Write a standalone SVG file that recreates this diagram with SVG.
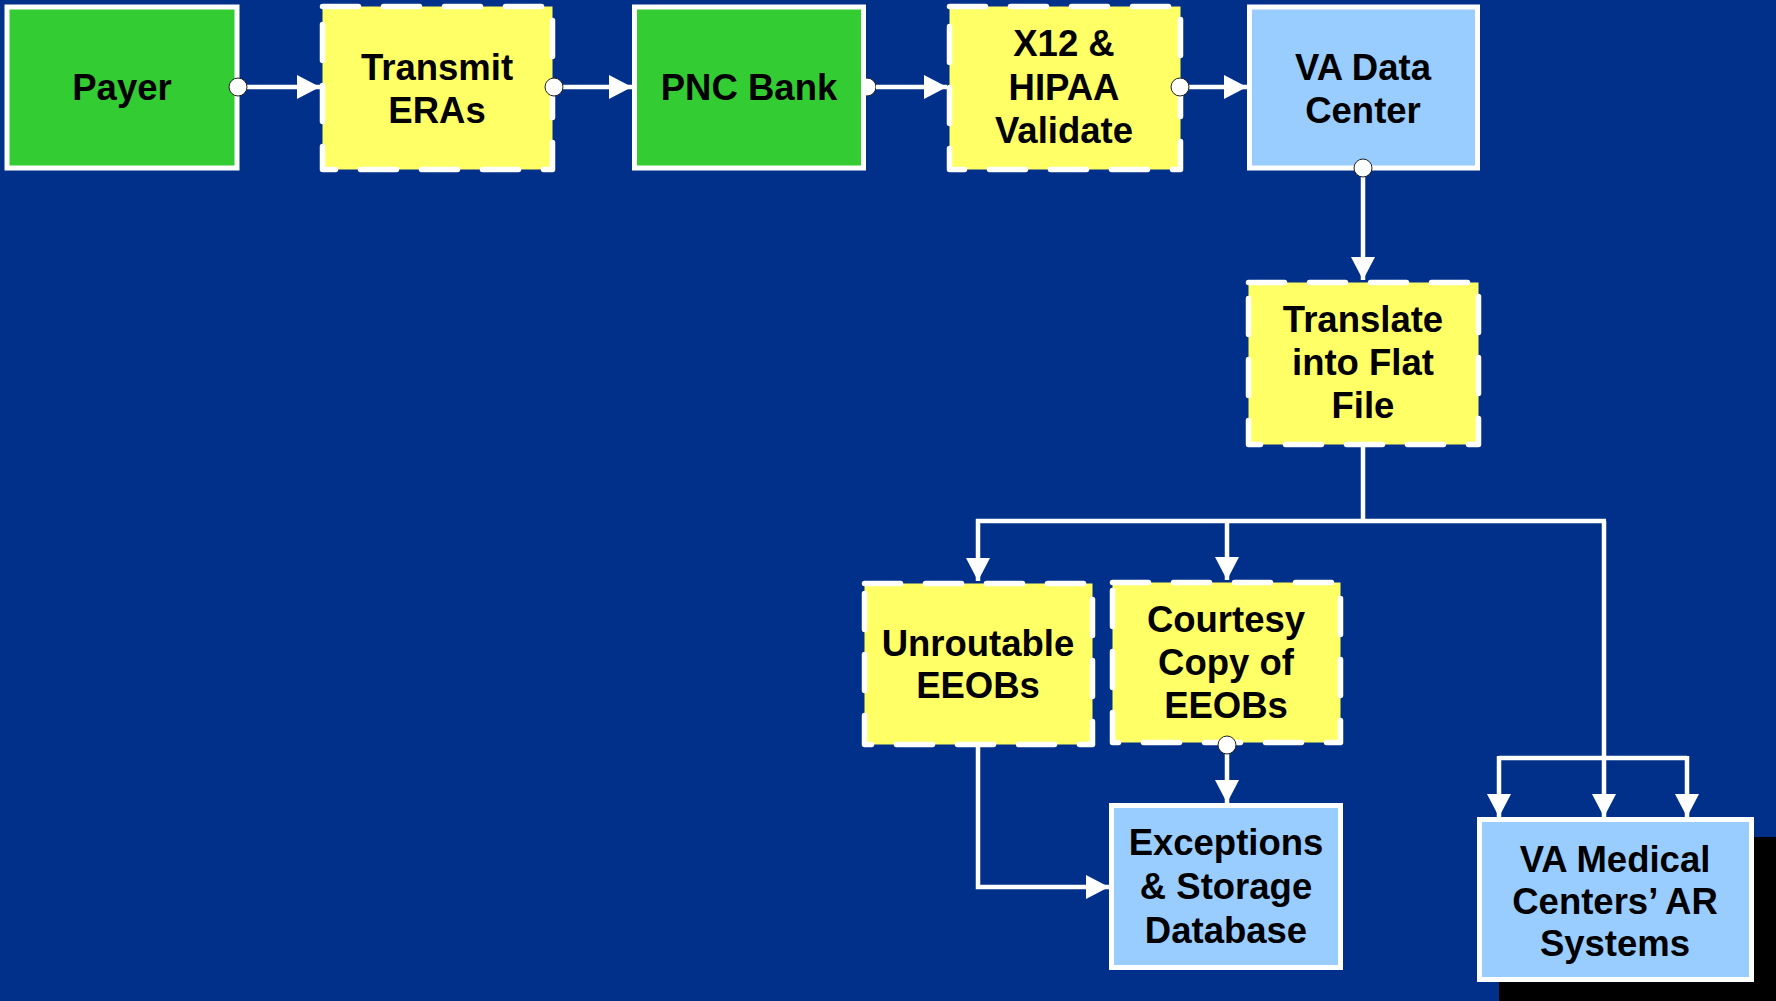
<svg xmlns="http://www.w3.org/2000/svg" width="1776" height="1001" viewBox="0 0 1776 1001">
<defs>
<style>
.bg{fill:#00308A}
.green{fill:#33CC33;stroke:#FFFFFF;stroke-width:5}
.blue{fill:#99CCFF;stroke:#FFFFFF;stroke-width:5}
.yellow{fill:#FFFF66;stroke:#FFFFFF;stroke-width:5.5;stroke-dasharray:36 25;stroke-linecap:round;stroke-linejoin:round}
.t{font-family:"Liberation Sans",Arial,sans-serif;font-weight:bold;font-size:36.5px;fill:#000000;text-anchor:middle}
.c{fill:none;stroke:#FFFFFF;stroke-width:4.5}
.arr{marker-end:url(#ah)}
.dot{fill:#FFFFFF;stroke:#222222;stroke-width:1}
</style>
<marker id="ah" markerUnits="userSpaceOnUse" markerWidth="24" markerHeight="26" refX="23" refY="12" orient="auto" viewBox="0 0 24 24">
<path d="M0,0 L23,12 L0,24 Z" fill="#FFFFFF"/>
</marker>
</defs>
<rect class="bg" x="0" y="0" width="1776" height="1001"/>
<rect x="1499" y="837" width="277" height="164" fill="#000000"/>

<g id="connectors-back">
<circle class="dot" cx="867" cy="87" r="9"/>
</g>

<g id="payer"><rect class="green" x="7" y="7" width="230" height="161"/><text class="t" x="122" y="100">Payer</text></g>
<g id="transmit"><rect class="yellow" x="322.5" y="6.5" width="230" height="163"/><text class="t" x="437" y="80">Transmit</text><text class="t" x="437" y="123">ERAs</text></g>
<g id="pnc"><rect class="green" x="634.5" y="7" width="229" height="161"/><text class="t" x="749" y="100">PNC Bank</text></g>
<g id="x12"><rect class="yellow" x="949.5" y="6.5" width="231" height="163"/><text class="t" x="1064" y="56">X12 &amp;</text><text class="t" x="1064" y="100">HIPAA</text><text class="t" x="1064" y="143">Validate</text></g>
<g id="vadc"><rect class="blue" x="1249.5" y="7" width="228" height="161"/><text class="t" x="1363" y="80">VA Data</text><text class="t" x="1363" y="123">Center</text></g>
<g id="translate"><rect class="yellow" x="1248.5" y="282.5" width="230" height="162"/><text class="t" x="1363" y="332">Translate</text><text class="t" x="1363" y="375">into Flat</text><text class="t" x="1363" y="418">File</text></g>
<g id="unroutable"><rect class="yellow" x="864.5" y="583.5" width="228" height="161"/><text class="t" x="978" y="656">Unroutable</text><text class="t" x="978" y="698">EEOBs</text></g>
<g id="courtesy"><rect class="yellow" x="1112.5" y="582.5" width="228" height="160"/><text class="t" x="1226" y="632">Courtesy</text><text class="t" x="1226" y="675">Copy of</text><text class="t" x="1226" y="718">EEOBs</text></g>
<g id="exceptions"><rect class="blue" x="1111.5" y="805.5" width="229" height="162"/><text class="t" x="1226" y="855">Exceptions</text><text class="t" x="1226" y="899">&amp; Storage</text><text class="t" x="1226" y="943">Database</text></g>
<g id="vamedical"><rect class="blue" x="1479.5" y="819.5" width="272" height="160"/><text class="t" x="1615" y="872">VA Medical</text><text class="t" x="1615" y="914">Centers’ AR</text><text class="t" x="1615" y="956">Systems</text></g>

<g id="connectors">
<line class="c arr" x1="238" y1="87" x2="320" y2="87"/>
<line class="c arr" x1="554" y1="87" x2="632" y2="87"/>
<line class="c arr" x1="876" y1="87" x2="947" y2="87"/>
<line class="c arr" x1="1180" y1="87" x2="1247" y2="87"/>
<line class="c arr" x1="1363" y1="168" x2="1363" y2="280"/>
<path class="c" d="M1363,447 V521 M976,521 H1606"/>
<path class="c arr" d="M978,519 V581"/>
<line class="c arr" x1="1227" y1="521" x2="1227" y2="580"/>
<line class="c arr" x1="1604" y1="521" x2="1604" y2="817"/>
<line class="c arr" x1="1227" y1="745" x2="1227" y2="803"/>
<path class="c arr" d="M978,747 V887 H1109"/>
<path class="c" d="M1499,758 H1687"/>
<path class="c arr" d="M1499,756 V817"/>
<path class="c arr" d="M1687,756 V817"/>
<circle class="dot" cx="238" cy="87" r="9"/>
<circle class="dot" cx="554" cy="87" r="9"/>
<circle class="dot" cx="1180" cy="87" r="9"/>
<circle class="dot" cx="1363" cy="168" r="9"/>
<circle class="dot" cx="1227" cy="745" r="9"/>
</g>
</svg>
